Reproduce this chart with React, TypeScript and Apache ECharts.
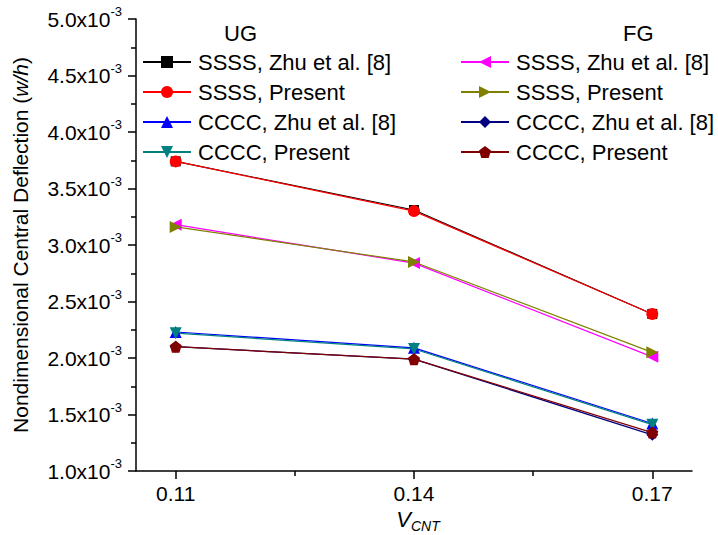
import React, { useEffect, useRef } from "react";
import * as echarts from "echarts";

// x positions (volume fraction of CNT)
const X_VALUES = [0.11, 0.14, 0.17];
const X_MAJOR_TICKS = [0.11, 0.14, 0.17];
const X_MINOR_TICKS = [0.125, 0.155];

// Nondimensional central deflection, in units of 10^-3
const UG_SSSS_ZHU = [3.74, 3.31, 2.39];
const UG_SSSS_PRESENT = [3.74, 3.30, 2.39];
const UG_CCCC_ZHU = [2.23, 2.09, 1.42];
const UG_CCCC_PRESENT = [2.22, 2.08, 1.41];
const FG_SSSS_ZHU = [3.18, 2.84, 2.01];
const FG_SSSS_PRESENT = [3.16, 2.85, 2.05];
const FG_CCCC_ZHU = [2.10, 1.99, 1.32];
const FG_CCCC_PRESENT = [2.10, 1.99, 1.34];

const UG_NAMES = [
  "SSSS, Zhu et al. [8]",
  "SSSS, Present",
  "CCCC, Zhu et al. [8]",
  "CCCC, Present",
];
const FG_NAMES = [
  "SSSS, Zhu et al. [8] ",
  "SSSS, Present ",
  "CCCC, Zhu et al. [8] ",
  "CCCC, Present ",
];

const FONT = "Liberation Sans, Arial, sans-serif";

const PENTAGON = "path://M0,-10 L9.51,-3.09 L5.88,8.09 L-5.88,8.09 L-9.51,-3.09 Z";
const TRI_LEFT = "path://M-10,0 L8,-9 L8,9 Z";
const TRI_RIGHT = "path://M10,0 L-8,-9 L-8,9 Z";
const TRI_DOWN = "path://M-9,-8 L9,-8 L0,10 Z";
const TRI_UP = "path://M-9,8 L9,8 L0,-10 Z";

function mk(name: string, vals: number[], color: string, symbol: string, size: number) {
  return {
    name,
    type: "line",
    xAxisIndex: 0,
    yAxisIndex: 0,
    data: X_VALUES.map((x, i) => [x, vals[i]]),
    symbol,
    symbolSize: size,
    showSymbol: true,
    lineStyle: { color, width: 1.2 },
    itemStyle: { color, borderWidth: 0 },
    emphasis: { disabled: true },
  };
}

export default function App() {
  const ref = useRef<HTMLDivElement>(null);
  useEffect(() => {
    if (!ref.current) return;
    const chart = echarts.init(ref.current, undefined, { renderer: "svg" });
    const series = [
      mk(UG_NAMES[0], UG_SSSS_ZHU, "#000000", "rect", 10),
      mk(UG_NAMES[1], UG_SSSS_PRESENT, "#ff0000", "circle", 12),
      mk(UG_NAMES[2], UG_CCCC_ZHU, "#0000ff", TRI_UP, 12),
      mk(UG_NAMES[3], UG_CCCC_PRESENT, "#008080", TRI_DOWN, 12),
      mk(FG_NAMES[0], FG_SSSS_ZHU, "#ff00ff", TRI_LEFT, 12),
      mk(FG_NAMES[1], FG_SSSS_PRESENT, "#808000", TRI_RIGHT, 12),
      mk(FG_NAMES[2], FG_CCCC_ZHU, "#000080", "diamond", 12),
      mk(FG_NAMES[3], FG_CCCC_PRESENT, "#800000", PENTAGON, 12),
    ];
    const legendCommon = {
      orient: "vertical",
      top: 51,
      padding: 0,
      itemWidth: 48,
      itemHeight: 15,
      itemGap: 8,
      selectedMode: false,
      textStyle: { fontSize: 22, fontFamily: FONT, color: "#000", lineHeight: 22, padding: [0, 0, 0, 2] },
    };
    chart.setOption({
      animation: false,
      backgroundColor: "#ffffff",
      grid: {
        left: 136,
        right: 26,
        top: 19,
        bottom: 64,
        containLabel: false,
        outerBoundsMode: "none",
      },
      legend: [
        { ...legendCommon, left: 142, data: UG_NAMES },
        { ...legendCommon, left: 460, data: FG_NAMES },
      ],
      graphic: [
        {
          type: "text",
          left: 224,
          top: 22,
          style: { text: "UG", fontSize: 22, fontFamily: FONT, fill: "#000" },
        },
        {
          type: "text",
          left: 623,
          top: 22,
          style: { text: "FG", fontSize: 22, fontFamily: FONT, fill: "#000" },
        },
      ],
      xAxis: [
        {
          type: "value",
          position: "bottom",
          min: 0.105,
          max: 0.175,
          axisLine: { show: true, onZero: false, lineStyle: { color: "#000", width: 1.5 } },
          axisTick: {
            show: true,
            customValues: X_MAJOR_TICKS,
            length: 8,
            lineStyle: { color: "#000", width: 1.5 },
          },
          axisLabel: {
            customValues: X_MAJOR_TICKS,
            formatter: (v: number) => v.toFixed(2),
            fontSize: 21,
            fontFamily: FONT,
            color: "#000",
            margin: 12,
          },
          splitLine: { show: false },
          name: "{v|V}{c|CNT}",
          nameLocation: "middle",
          nameGap: 33,
          nameTextStyle: {
            padding: [0, 0, 0, 8],
            rich: {
              v: { fontSize: 22, fontStyle: "italic", fontFamily: FONT, color: "#000", lineHeight: 26 },
              c: {
                fontSize: 14,
                fontStyle: "italic",
                fontFamily: FONT,
                color: "#000",
                lineHeight: 14,
                verticalAlign: "bottom",
              },
            },
          },
        },
        {
          type: "value",
          position: "bottom",
          min: 0.105,
          max: 0.175,
          axisLine: { show: false, onZero: false },
          axisTick: {
            show: true,
            customValues: X_MINOR_TICKS,
            length: 5,
            lineStyle: { color: "#000", width: 1.5 },
          },
          axisLabel: { show: false },
          splitLine: { show: false },
        },
      ],
      yAxis: {
        type: "value",
        min: 1,
        max: 5,
        interval: 0.5,
        axisLine: { show: true, onZero: false, lineStyle: { color: "#000", width: 1.5 } },
        axisTick: { show: true, length: 8, lineStyle: { color: "#000", width: 1.5 } },
        minorTick: { show: true, splitNumber: 2, length: 5, lineStyle: { color: "#000", width: 1.5 } },
        splitLine: { show: false },
        axisLabel: {
          margin: 14,
          formatter: (v: number) => `{b|${v.toFixed(1)}x10}{s|-3}`,
          rich: {
            b: { fontSize: 21, fontFamily: FONT, color: "#000", lineHeight: 28 },
            s: { fontSize: 13, fontFamily: FONT, color: "#000", lineHeight: 13, verticalAlign: "top" },
          },
        },
        name: "{n|Nondimensional Central Deflection (}{i|w/h}{n|)}",
        nameLocation: "middle",
        nameRotate: 90,
        nameGap: 105,
        nameTextStyle: {
          rich: {
            n: { fontSize: 21, fontFamily: FONT, color: "#000" },
            i: { fontSize: 21, fontFamily: FONT, color: "#000", fontStyle: "italic" },
          },
        },
      },
      series,
    });
    return () => chart.dispose();
  }, []);
  return (
    <div
      ref={ref}
      style={{ position: "fixed", left: 0, top: 0, width: 718, height: 535, background: "#fff" }}
    />
  );
}
